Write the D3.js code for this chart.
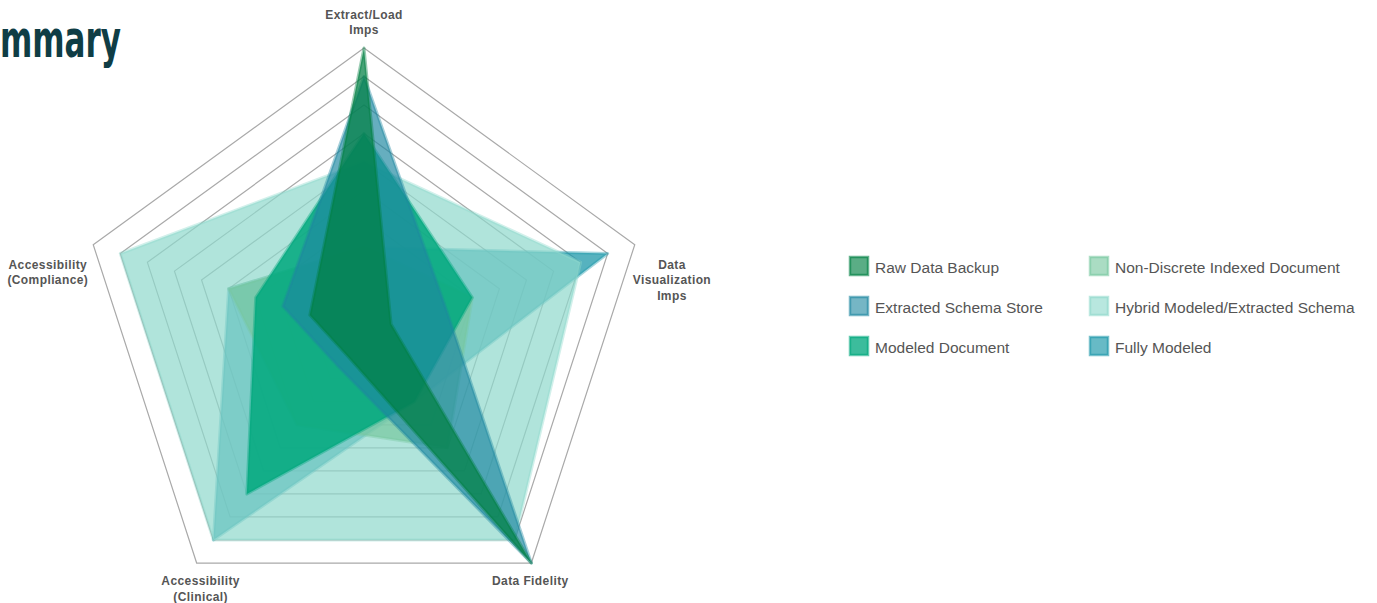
<!DOCTYPE html>
<html>
<head>
<meta charset="utf-8">
<script src="https://cdnjs.cloudflare.com/ajax/libs/d3/7.8.5/d3.min.js"></script>
<style>
  body { margin: 0; background: #fff; }
  svg { display: block; }
</style>
</head>
<body>
<svg id="chart" width="1377" height="603"></svg>
<script>
// axes, clockwise from the top
var axisLabels = [
    ["Extract/Load", "Imps"],
    ["Data", "Visualization", "Imps"],
    ["Data Fidelity"],
    ["Accessibility", "(Clinical)"],
    ["Accessibility", "(Compliance)"]
];

var seriesNames = [
    "Raw Data Backup",
    "Extracted Schema Store",
    "Modeled Document",
    "Non-Discrete Indexed Document",
    "Hybrid Modeled/Extracted Schema",
    "Fully Modeled"
];

// one value per axis, same order as axisLabels
var rawDataBackup      = [10, 1, 10, 1, 2];
var extractedSchema    = [9, 3, 10, 1.5, 3];
var modeledDocument    = [7, 4, 3, 7, 4];
var nonDiscreteIndexed = [3, 4, 5, 4, 5];
var hybridModeled      = [6, 8, 9, 9, 9];
var fullyModeled       = [3, 9, 3, 9, 5];

var ringTicks = [1, 2, 3, 4, 5, 6, 7, 8, 9, 10];

var seriesValues = [rawDataBackup, extractedSchema, modeledDocument,
                    nonDiscreteIndexed, hybridModeled, fullyModeled];

var seriesColors = ["rgb(0,128,66)", "rgb(30,135,160)", "rgb(0,168,125)",
                    "rgb(120,200,160)", "rgb(143,217,204)", "rgb(30,152,170)"];
var seriesAlpha  = [0.72, 0.68, 0.85, 0.7, 0.7, 0.75];

var svg = d3.select("#chart");
var cx = 364, cy = 332.7, R = 284.7;
var n = axisLabels.length;

var r = d3.scaleLinear().domain([0, 10]).range([0, R]);
var angle = function(i) { return i * 2 * Math.PI / n; };

var radial = d3.lineRadial()
    .angle(function(d, i) { return angle(i); })
    .radius(function(d) { return r(d); })
    .curve(d3.curveLinearClosed);

var g = svg.append("g").attr("transform", "translate(" + cx + "," + cy + ")");

// grid rings
g.selectAll("path.ring")
    .data(ringTicks)
    .enter().append("path")
    .attr("class", "ring")
    .attr("d", function(t) { return radial(axisLabels.map(function() { return t; })); })
    .attr("fill", "none")
    .attr("stroke", "#a9a9a9")
    .attr("stroke-width", 1.2);

// series polygons, first series ends up on top
var order = d3.range(seriesValues.length).reverse();
g.selectAll("path.series")
    .data(order)
    .enter().append("path")
    .attr("class", "series")
    .attr("d", function(k) { return radial(seriesValues[k]); })
    .attr("fill", function(k) { return seriesColors[k]; })
    .attr("fill-opacity", function(k) { return seriesAlpha[k]; })
    .attr("stroke", function(k) { return seriesColors[k]; })
    .attr("stroke-opacity", 0.4)
    .attr("stroke-width", 3)
    .attr("stroke-linejoin", "round");

// point labels
var lineH = 15.5;
axisLabels.forEach(function(lines, i) {
    var a = angle(i);
    var vx = cx + R * Math.sin(a), vy = cy - R * Math.cos(a);
    var t = svg.append("text")
        .attr("text-anchor", "middle")
        .attr("font-family", "'Liberation Sans', Arial, sans-serif")
        .attr("font-weight", "bold")
        .attr("font-size", 12)
        .attr("letter-spacing", "0.4px")
        .attr("fill", "#555");
    var spans = t.selectAll("tspan").data(lines).enter().append("tspan").text(function(d) { return d; });
    var w = d3.max(spans.nodes(), function(s) { return s.getComputedTextLength(); });
    var x = vx, y0;
    if (Math.abs(Math.sin(a)) < 0.01) {
        y0 = vy - 14 - (lines.length - 1) * lineH;
    } else if (Math.abs(Math.sin(a)) > 0.9) {
        x = Math.sin(a) > 0 ? vx + w / 2 - 2 : vx - w / 2 - 5;
        y0 = vy + 24;
    } else {
        x = vx + (Math.sin(a) < 0 ? 4 : -1);
        y0 = vy + 22;
    }
    spans.attr("x", x).attr("y", function(d, j) { return y0 + j * lineH; });
});

// legend, two columns of three
var legend = svg.append("g").attr("transform", "translate(849,256)");
var item = legend.selectAll("g.item")
    .data(seriesNames)
    .enter().append("g")
    .attr("class", "item")
    .attr("transform", function(d, i) {
        return "translate(" + (Math.floor(i / 3) * 240) + "," + ((i % 3) * 40) + ")";
    });
item.append("rect")
    .attr("x", 1).attr("y", 1).attr("width", 18).attr("height", 18)
    .attr("fill", function(d, i) { return seriesColors[i]; })
    .attr("fill-opacity", function(d, i) { return seriesAlpha[i] * 0.9; })
    .attr("stroke", function(d, i) { return seriesColors[i]; })
    .attr("stroke-opacity", 0.6)
    .attr("stroke-width", 2.5);
item.append("text")
    .attr("x", 26).attr("y", 16.5)
    .attr("font-family", "'Liberation Sans', Arial, sans-serif")
    .attr("font-size", 15.5)
    .attr("fill", "#555")
    .text(function(d) { return d; });

// page heading, cut off at the left edge
var titleFont = "'Liberation Sans Narrow', 'DejaVu Sans Condensed', 'Liberation Sans', sans-serif";
var probe = svg.append("text")
    .attr("font-family", titleFont)
    .attr("font-weight", "bold").attr("font-size", 51).text("mmary");
var sx = 121 / probe.node().getComputedTextLength();
probe.remove();
svg.append("text")
    .attr("transform", "translate(121,57) scale(" + sx + ",1)")
    .attr("text-anchor", "end")
    .attr("font-family", titleFont)
    .attr("font-weight", "bold")
    .attr("font-size", 51)
    .attr("fill", "#0f3d45")
    .text("Summary");
</script>
</body>
</html>
